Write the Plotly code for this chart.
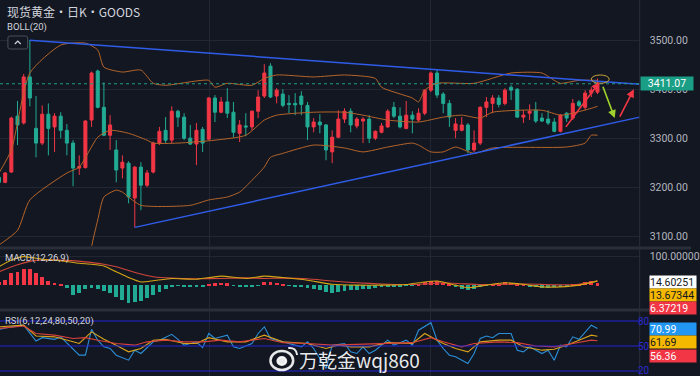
import plotly.graph_objects as go

W, H = 700, 376
def px(x): return x / W
def py(y): return 1 - y / H

# ---------------- data ----------------
opens  = [3220,3210,3231,3345,3331,3425,3320,3290,3349,3323,3345,3316,3290,3239,3240,3337,3437,3363,3306,3276,
          3239,3249,3178,3241,3204,3231,3290,3316,3296,3355,3343,3300,3288,3318,3298,3382,3353,3374,3353,3310,
          3325,3323,3355,3386,3447,3386,3390,3371,3371,3386,3367,3323,3333,3327,3272,3302,3339,3355,3325,3335,
          3339,3300,3312,3323,3363,3345,3320,3347,3337,3351,3398,3433,3390,3371,3316,3316,3327,3276,3290,3363,
          3371,3382,3371,3404,3400,3343,3351,3357,3341,3339,3333,3314,3351,3341,3374,3363,3392,3394]
highs  = [3225,3231,3344,3376,3431,3500,3386,3367,3371,3351,3353,3329,3296,3265,3337,3436,3440,3414,3347,3296,
          3265,3253,3243,3251,3235,3293,3323,3343,3365,3358,3351,3327,3331,3323,3384,3388,3384,3402,3374,3337,
          3351,3357,3398,3451,3453,3402,3400,3388,3392,3396,3374,3341,3349,3329,3316,3357,3361,3361,3343,3343,
          3347,3316,3331,3359,3374,3363,3376,3355,3361,3400,3436,3441,3394,3378,3341,3343,3331,3316,3365,3384,
          3388,3388,3402,3408,3402,3357,3369,3374,3351,3357,3341,3349,3353,3380,3378,3398,3404,3422]
lows   = [3205,3208,3229,3286,3328,3365,3261,3286,3265,3272,3300,3265,3202,3225,3238,3323,3361,3304,3276,3210,
          3218,3167,3118,3153,3200,3228,3286,3290,3290,3323,3296,3286,3245,3272,3296,3333,3351,3341,3302,3292,
          3304,3316,3341,3382,3382,3371,3363,3351,3347,3347,3296,3312,3310,3255,3249,3300,3331,3312,3320,3290,
          3290,3296,3310,3321,3341,3320,3318,3310,3333,3347,3394,3382,3351,3323,3300,3314,3269,3272,3286,3343,
          3351,3363,3367,3378,3341,3331,3337,3331,3333,3327,3312,3312,3333,3337,3363,3357,3384,3390]
closes = [3210,3229,3341,3327,3425,3382,3290,3349,3320,3345,3316,3290,3239,3242,3335,3433,3363,3306,3327,3235,
          3251,3180,3241,3204,3229,3290,3314,3296,3355,3343,3300,3288,3316,3290,3382,3353,3374,3351,3312,3327,
          3323,3355,3384,3433,3384,3398,3367,3369,3368,3369,3323,3333,3327,3276,3302,3339,3355,3327,3339,3339,
          3300,3314,3325,3355,3345,3323,3347,3339,3351,3398,3433,3388,3371,3343,3329,3327,3276,3290,3363,3374,
          3382,3369,3398,3398,3343,3347,3355,3335,3335,3331,3314,3347,3341,3371,3367,3392,3398,3411.07]
idx = list(range(len(opens)))

# BOLL(20) read at selected candles
boll_up_idx  = [0,2,5,10,14,16,17,20,23,25,27,34,35,37,41,43,45,51,56,61,62,67,68,69,71,77,83,88,90,91,94,97]
boll_up_val  = [3229,3276,3433,3490,3494,3480,3445,3435,3439,3412,3408,3418,3404,3412,3408,3422,3429,3425,3429,3422,
                3404,3382,3374,3398,3412,3412,3433,3433,3418,3412,3418,3418]
boll_mid_idx = [0,3,5,11,13,16,18,21,24,25,29,35,40,43,45,51,56,59,63,68,72,75,78,80,88,91,93,96,97]
boll_mid_val = [3082,3112,3174,3229,3241,3302,3316,3310,3296,3290,3290,3296,3306,3337,3347,3353,3353,3347,3337,3333,
                3343,3347,3341,3353,3357,3347,3351,3361,3365]
boll_lo_idx  = [14,15,16,17,19,20,21,23,31,34,37,39,41,43,44,46,51,56,59,63,67,68,70,72,74,77,80,92,95,96,97]
boll_lo_val  = [2980,3078,3133,3180,3194,3190,3180,3163,3163,3174,3180,3190,3214,3241,3261,3269,3286,3280,3272,3282,
                3290,3286,3272,3272,3282,3269,3280,3282,3290,3306,3306]

# drawn trend lines (index, price)
trend_up_x = [5, 103.84];  trend_up_y = [3500, 3410]
trend_lo_x = [22, 103.84]; trend_lo_y = [3118, 3343]

# MACD(12,26,9)
macd_hist = [10,17,41,45,55,55,41,28,14,7,1,-10,-34,-28,-14,-10,-14,-20,-28,-41,
             -52,-62,-59,-55,-45,-34,-25,-14,-6,-2,-3,-4,-5,-3,3,6,8,6,-2,-3,
             -4,-3,-2,10,10,7,4,-2,-3,-5,-10,-14,-18,-24,-28,-25,-20,-17,-15,-12,
             -12,-10,-6,-4,-3,-3,-2,-1,2,10,14,14,8,3,-4,-12,-18,-14,-5,-1,
             2,5,10,8,6,2,-5,-8,-10,-10,-8,-4,-1,2,5,10,14,6.37219]
dif_idx = [0,2,4,7,10,13,15,17,19,21,23,25,28,32,36,40,43,46,50,54,58,62,66,69,71,74,76,79,82,85,88,91,94,97]
dif_val = [63,86,98,89,84,75,72,66,46,26,11,15,23,20,31,23,31,26,17,3,0,0,2,11,14,0,-9,0,8,3,-6,-6,0,14.60251]
dea_idx = [0,3,6,10,14,17,19,21,23,25,28,32,36,40,43,46,50,54,58,62,66,69,72,75,78,82,86,90,94,97]
dea_val = [46,70,85,86,80,72,63,50,38,29,24,22,23,25,23,24,22,14,8,4,2,4,8,5,2,3,4,1,3,13.67344]

# RSI(6,12,24)
rsi6_idx = [0,2,4,6,7,9,10,12,13,14,15,16,17,18,19,21,22,23,25,26,28,29,30,32,33,34,35,37,38,39,
            41,42,43,44,46,47,49,50,51,53,54,56,57,58,59,60,61,63,64,66,67,68,70,71,72,73,74,76,77,78,
            79,80,81,83,84,85,86,88,89,90,91,92,93,94,95,96,97]
rsi6_val = [70,73,75,56,60,58,61,47,39,39,70,57,49,47,39,33,45,41,55,57,64,58,51,55,48,65,59,63,49,47,
            53,65,73,59,55,53,49,55,47,23,51,53,43,41,49,41,45,57,51,57,51,69,78,57,47,39,37,29,41,59,
            62,60,65,65,45,43,49,41,45,33,51,49,61,58,67,75,70.99]
rsi12_idx = [0,4,6,9,12,13,15,17,19,21,23,25,27,30,32,34,37,40,43,46,50,53,55,57,60,63,67,69,72,74,
             76,78,81,83,85,88,90,92,94,96,97]
rsi12_val = [73,75,62,61,55,53,67,58,51,43,47,57,58,53,53,60,55,55,63,55,53,47,51,49,49,54,53,65,53,47,
             43,55,57,57,49,45,46,51,57,63,61.69]
rsi24_idx = [0,4,6,9,12,14,16,19,22,24,27,30,33,36,39,43,46,50,54,59,63,67,70,72,75,77,81,84,87,90,93,96,97]
rsi24_val = [71,74,65,63,59,60,57,53,51,55,57,55,55,57,55,59,54,53,51,52,53,54,60,55,49,53,55,54,50,49,53,57,56.36]

price_ticks = [3100, 3200, 3300, 3400, 3500]
grid_idx = [34.1, 69.9]

# annotation arrows drawn on the chart (index, price)
arrow_up1 = [91.7, 3320, 97.3, 3414]
arrow_dn  = [97.8, 3408, 99.8, 3341]
arrow_up2 = [100.5, 3341, 102.9, 3400]
circle_box = [96.0, 98.9, 3412, 3429]

# ---------------- style ----------------
BG = "#131722"
GRID = "#232733"
UP = "#f23645"
DN = "#22ab94"
BOLLC = "#b5652a"
BLUE = "#2f5ce8"
AXT = "#b2b5be"
FONT = "Roboto"
XR = [0.16, 103.84]
XD = [0, 648 / W]

fig = go.Figure()

fig.add_trace(go.Candlestick(
    x=idx, open=opens, high=highs, low=lows, close=closes,
    increasing=dict(line=dict(color=UP, width=1), fillcolor=UP),
    decreasing=dict(line=dict(color=DN, width=1), fillcolor=DN),
    whiskerwidth=0, xaxis="x", yaxis="y", showlegend=False))

for xs, ys in [(boll_up_idx, boll_up_val), (boll_mid_idx, boll_mid_val), (boll_lo_idx, boll_lo_val)]:
    fig.add_trace(go.Scatter(x=xs, y=ys, mode="lines", line=dict(color=BOLLC, width=1, shape="spline", smoothing=0.6),
                             xaxis="x", yaxis="y", showlegend=False, hoverinfo="skip"))

for xs, ys in [(trend_up_x, trend_up_y), (trend_lo_x, trend_lo_y)]:
    fig.add_trace(go.Scatter(x=xs, y=ys, mode="lines", line=dict(color=BLUE, width=1.5),
                             xaxis="x", yaxis="y", showlegend=False, hoverinfo="skip"))

# MACD
fig.add_trace(go.Bar(x=idx, y=macd_hist, width=0.62,
                     marker=dict(color=[UP if v >= 0 else DN for v in macd_hist], line=dict(width=0)),
                     xaxis="x2", yaxis="y2", showlegend=False))
fig.add_trace(go.Scatter(x=dea_idx, y=dea_val, mode="lines", line=dict(color="#d0463a", width=1.1, shape="spline", smoothing=0.5),
                         xaxis="x2", yaxis="y2", showlegend=False))
fig.add_trace(go.Scatter(x=dif_idx, y=dif_val, mode="lines", line=dict(color="#d4a514", width=1.1, shape="spline", smoothing=0.5),
                         xaxis="x2", yaxis="y2", showlegend=False))

# RSI
fig.add_trace(go.Scatter(x=rsi6_idx, y=rsi6_val, mode="lines", line=dict(color="#2a8fd8", width=1.1),
                         xaxis="x3", yaxis="y3", showlegend=False))
fig.add_trace(go.Scatter(x=rsi12_idx, y=rsi12_val, mode="lines", line=dict(color="#d9a21c", width=1.1),
                         xaxis="x3", yaxis="y3", showlegend=False))
fig.add_trace(go.Scatter(x=rsi24_idx, y=rsi24_val, mode="lines", line=dict(color="#d8413a", width=1.1),
                         xaxis="x3", yaxis="y3", showlegend=False))

xcommon = dict(range=XR, domain=XD, showticklabels=False, tickvals=grid_idx, ticks="",
               showgrid=True, gridcolor=GRID, gridwidth=1, zeroline=False, showline=False, fixedrange=True)

fig.update_layout(
    width=W, height=H, margin=dict(l=0, r=0, t=0, b=0),
    paper_bgcolor=BG, plot_bgcolor=BG, showlegend=False, bargap=0,
    font=dict(family=FONT, color=AXT, size=10),
    xaxis=dict(**xcommon, anchor="y", rangeslider=dict(visible=False)),
    xaxis2=dict(**xcommon, anchor="y2", matches="x"),
    xaxis3=dict(**xcommon, anchor="y3", matches="x"),
    yaxis=dict(domain=[py(246), 1], range=[3080, 3582], side="right", anchor="x",
               tickvals=price_ticks, ticktext=[f"{v:.2f}" for v in price_ticks],
               showgrid=True, gridcolor=GRID, zeroline=False, ticks="", ticklabelstandoff=9,
               tickfont=dict(size=10.5, color=AXT, family=FONT), fixedrange=True),
    yaxis2=dict(domain=[py(309), py(250)], range=[-82, 120.7], side="right", anchor="x2",
                tickvals=[100], ticktext=["100.00000"], showgrid=True, gridcolor=GRID, zeroline=False,
                ticks="", ticklabelstandoff=9, tickfont=dict(size=10.5, color=AXT, family=FONT), fixedrange=True),
    yaxis3=dict(domain=[0, py(311)], range=[14, 92], side="right", anchor="x3",
                tickvals=[], showgrid=False, zeroline=False, fixedrange=True),
)

shapes = []
# panel separators and right border
shapes.append(dict(type="line", xref="paper", yref="paper", x0=0, x1=1, y0=py(248), y1=py(248),
                   line=dict(color="#2a2e39", width=3)))
shapes.append(dict(type="line", xref="paper", yref="paper", x0=0, x1=1, y0=py(310), y1=py(310),
                   line=dict(color="#2a2e39", width=3)))
shapes.append(dict(type="line", xref="paper", yref="paper", x0=px(648), x1=px(648), y0=0, y1=1,
                   line=dict(color="#2a2e39", width=1)))
# current price dotted line
shapes.append(dict(type="line", xref="paper", yref="y", x0=0, x1=px(648), y0=closes[-1], y1=closes[-1],
                   line=dict(color="#1e9e87", width=1, dash="dot")))
# RSI levels
for lv in [80, 50, 20]:
    shapes.append(dict(type="line", xref="paper", yref="y3", x0=0, x1=px(648), y0=lv, y1=lv,
                       line=dict(color="#2424d6", width=1.2)))
# circle at top
shapes.append(dict(type="circle", xref="x", yref="y", x0=circle_box[0], x1=circle_box[1],
                   y0=circle_box[2], y1=circle_box[3], line=dict(color="#c9a23a", width=1)))
# collapse button
shapes.append(dict(type="path", xref="paper", yref="paper",
                   path=(f"M {px(10)},{py(36)} L {px(26)},{py(36)} Q {px(28)},{py(36)} {px(28)},{py(38)} "
                         f"L {px(28)},{py(47)} Q {px(28)},{py(49)} {px(26)},{py(49)} L {px(10)},{py(49)} "
                         f"Q {px(8)},{py(49)} {px(8)},{py(47)} L {px(8)},{py(38)} Q {px(8)},{py(36)} {px(10)},{py(36)} Z"),
                   line=dict(color="#4a4f5c", width=1), fillcolor=BG))
shapes.append(dict(type="path", xref="paper", yref="paper",
                   path=f"M {px(15)},{py(44)} L {px(18)},{py(41)} L {px(21)},{py(44)}",
                   line=dict(color="#d1d4dc", width=1.2)))
# weibo-like logo
shapes.append(dict(type="circle", xref="paper", yref="paper", x0=px(274), x1=px(297), y0=py(370), y1=py(351),
                   line=dict(color="rgba(255,255,255,0.9)", width=2.5)))
shapes.append(dict(type="circle", xref="paper", yref="paper", x0=px(281), x1=px(290), y0=py(365), y1=py(357),
                   line=dict(color="rgba(255,255,255,0.9)", width=2), fillcolor="rgba(255,255,255,0.9)"))
shapes.append(dict(type="path", xref="paper", yref="paper",
                   path=f"M {px(292)},{py(348)} Q {px(300)},{py(347)} {px(301)},{py(355)}",
                   line=dict(color="rgba(255,255,255,0.9)", width=2)))
fig.update_layout(shapes=shapes)

ann = []
def txt(x, y, s, size=10, color=AXT, xanchor="left", family=FONT, **kw):
    ann.append(dict(xref="paper", yref="paper", x=px(x), y=py(y), text=s, showarrow=False,
                    xanchor=xanchor, yanchor="middle", font=dict(size=size, color=color, family=family), **kw))

txt(5, 11, "现货黄金・日K・GOODS", size=12, color="#d1d4dc", family="Noto Sans CJK SC")
txt(5, 27, "BOLL(20)", size=9.5, color="#d1d4dc")
txt(3, 258, "MACD(12,26,9)", size=9.5, color="#d1d4dc")
txt(3, 321, "RSI(6,12,24,80,50,20)", size=9.5, color="#d1d4dc")
for lv, yy in [(80, 321), (50, 346), (20, 370)]:
    txt(652, yy, str(lv), size=10, color="#2a2ad0", xanchor="center")

def box(y, s, bg, fg):
    ann.append(dict(xref="paper", yref="paper", x=px(657), y=py(y), text=s, showarrow=False,
                    xanchor="left", yanchor="middle", bgcolor=bg, width=46, height=12, align="left",
                    borderpad=0, font=dict(size=10.5, color=fg, family=FONT)))

ann.append(dict(xref="paper", yref="y", x=px(648), y=closes[-1], text=f"{closes[-1]:.2f}", showarrow=False,
                xanchor="left", yanchor="middle", bgcolor="#1a9e85", width=52, height=13, align="center",
                borderpad=0, font=dict(size=10.5, color="#ffffff", family=FONT)))
box(281.5, "14.60251", "#ffffff", "#131722")
box(294.5, "13.67344", "#f5b800", "#131722")
box(307.5, "6.37219", "#f23645", "#ffffff")
box(328.5, "70.99", "#2196f3", "#ffffff")
box(342, "61.69", "#f5b800", "#131722")
box(355.5, "56.36", "#f23645", "#ffffff")

txt(364, 359, "万乾金wqj860", size=19, color="rgba(255,255,255,0.92)", xanchor="center",
    family="Noto Sans CJK SC")

for a, col in [(arrow_up1, "#f23645"), (arrow_dn, "#9fd22d"), (arrow_up2, "#f23645")]:
    ann.append(dict(xref="x", yref="y", axref="x", ayref="y", x=a[2], y=a[3], ax=a[0], ay=a[1],
                    text="", showarrow=True, arrowhead=2, arrowsize=1, arrowwidth=1.6, arrowcolor=col))

fig.update_layout(annotations=ann)

fig.write_html("out.html", config={"displayModeBar": False},
               post_script="document.body.style.margin='0px';document.body.style.background='#131722';")
